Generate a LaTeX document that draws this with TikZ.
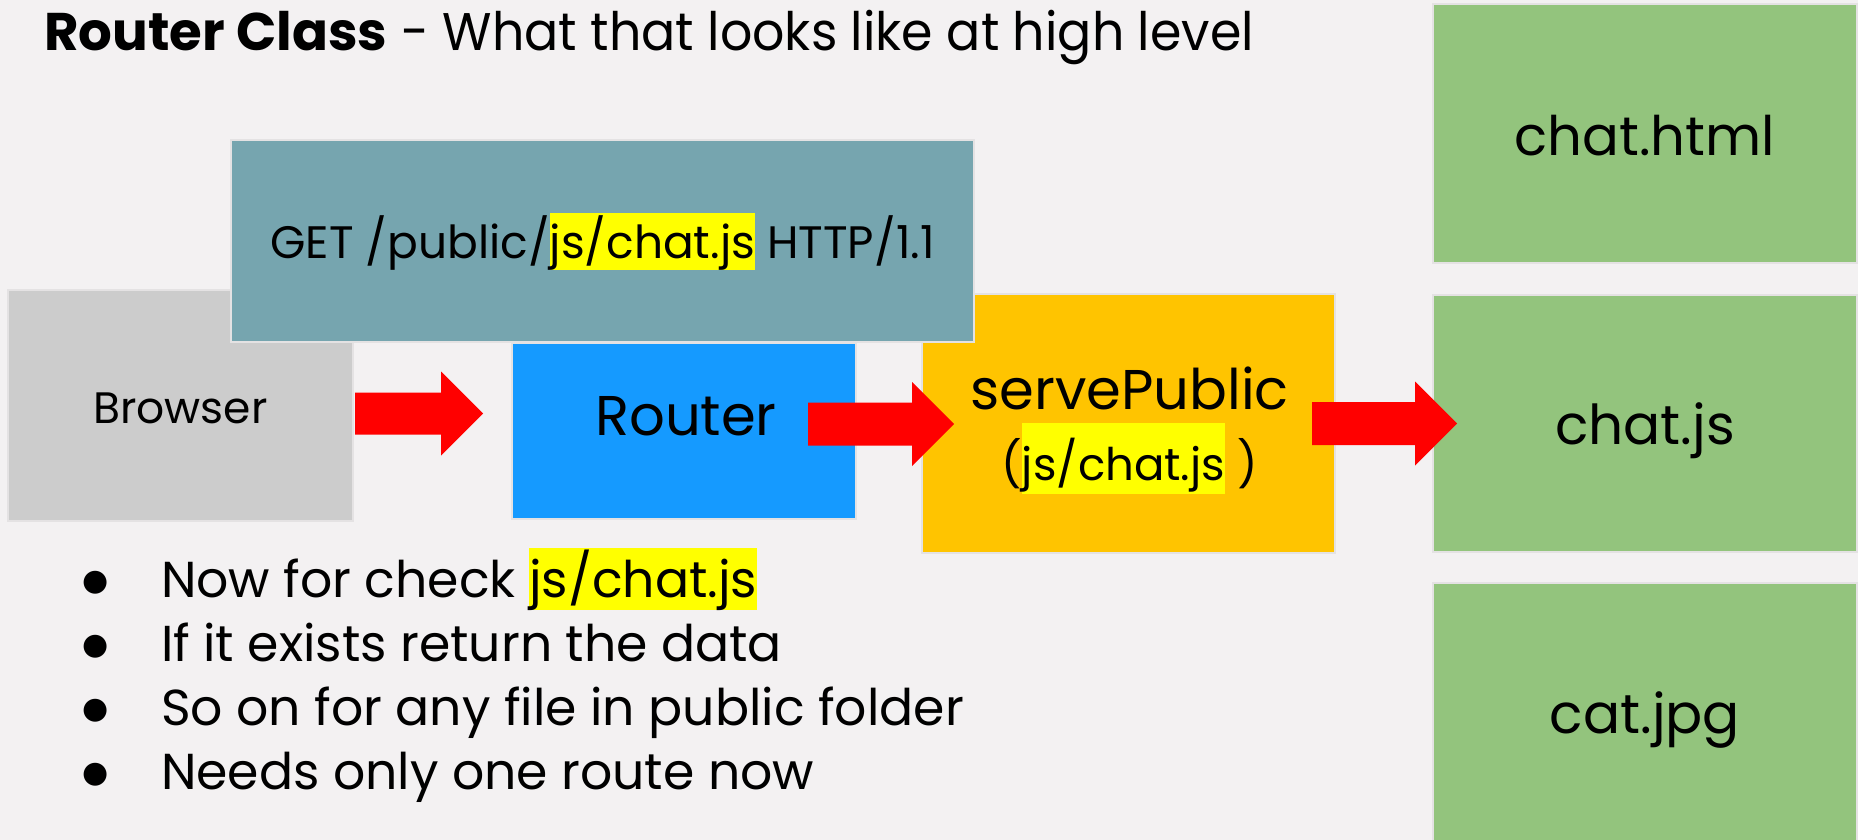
\documentclass[tikz,border=0pt]{standalone}
\usepackage{fontspec}
\setmainfont{Poppins}
\newfontfamily\symfont{DejaVu Sans}
\usetikzlibrary{calc}

\definecolor{bg}{HTML}{F3F1F2}
\definecolor{boxline}{HTML}{E4E2E3}
\definecolor{browsergray}{HTML}{CCCCCC}
\definecolor{reqteal}{HTML}{76A5AF}
\definecolor{routerblue}{HTML}{159AFF}
\definecolor{serveorange}{HTML}{FFC400}
\definecolor{filegreen}{HTML}{93C47D}
\definecolor{arrowred}{HTML}{FF0000}
\definecolor{hlyellow}{HTML}{FFFF00}

% highlighted run of text
\newcommand\hl[1]{{\setlength{\fboxsep}{0pt}\colorbox{hlyellow}{\rule[-0.24em]{0pt}{1.22em}#1}}}
% the same, with the taller band of a looser line
\newcommand\hltall[1]{{\setlength{\fboxsep}{0pt}\colorbox{hlyellow}{\rule[-0.31em]{0pt}{1.58em}#1}}}
\newcommand\fs[1]{\fontsize{#1}{#1}\selectfont}

% thick block arrow from #1 to the x of #2, shaft half-height #3
\newcommand\blockarrow[3]{%
  \fill[arrowred] let \p1=(#1), \p2=(#2) in
    (\x1,\y1+#3) -- (\x2-42pt,\y1+#3) -- (\x2-42pt,\y1+42pt) -- (\x2,\y1)
    -- (\x2-42pt,\y1-42pt) -- (\x2-42pt,\y1-#3) -- (\x1,\y1-#3) -- cycle;}

\begin{document}
\begin{tikzpicture}[x=1pt,y=-1pt,
  box/.style={draw=boxline, line width=1.2pt, inner sep=0pt, outer sep=0pt},
  lbl/.style={anchor=base, inner sep=0pt, outer sep=0pt, text=black},
  bullet/.style={anchor=center, inner sep=0pt, text=black}]

\fill[bg] (0,0) rectangle (1858,840);
\useasboundingbox (0,0) rectangle (1858,840);
\clip (0,0) rectangle (1858,840);

% boxes
\node[box, fill=browsergray, minimum width=345pt, minimum height=231pt] (browser) at (180.5,405.5) {};
\node[box, fill=serveorange, minimum width=413pt, minimum height=259pt] (serve) at (1128.5,423.5) {};
\node[box, fill=filegreen, minimum width=424pt, minimum height=259pt] (html) at (1645,133.5) {};
\node[box, fill=filegreen, minimum width=424pt, minimum height=257pt] (js) at (1645,423.5) {};
\node[box, fill=filegreen, minimum width=424pt, minimum height=259pt] (jpg) at (1645,712.5) {};
\node[box, fill=routerblue, minimum width=344pt, minimum height=176pt] (router) at (684,431) {};
\node[box, fill=reqteal, minimum width=743pt, minimum height=202pt] (get) at (602.5,241) {};

% arrows
\coordinate (a1s) at ($(browser.east)+(2,8)$);
\coordinate (a1e) at ($(router.west)+(-29,-18)$);
\coordinate (a2s) at ($(router.east)+(-48,-7)$);
\coordinate (a2e) at ($(serve.west)+(32,0)$);
\coordinate (a3s) at ($(serve.east)+(-23,0)$);
\coordinate (a3e) at ($(js.west)+(24,0)$);
\blockarrow{a1s}{a1e}{21pt}
\blockarrow{a2s}{a2e}{21.5pt}
\blockarrow{a3s}{a3e}{21.5pt}

% title
\node[lbl, anchor=base west] (title) at (44,51) {\fs{53}\textbf{Router Class} {\addfontfeatures{FakeStretch=0.955}- What that looks like at high level}};

% box labels
\node[lbl] (getlbl) at ($(get.center)+(0,17)$) {\fs{45.5}GET /public/\hl{js/chat.js} HTTP/1.1};
\node[lbl] (browserlbl) at ($(browser.center)+(0,17.5)$) {\fs{44}Browser};
\node[lbl] (routerlbl) at ($(router.center)+(2,4)$) {\fs{56}Router};
\node[lbl] (servelbl) at ($(serve.center)+(1,-14.5)$) {\fs{56}servePublic};
\node[lbl] (servearg) at ($(serve.center)+(1,56.5)$) {\fs{45}(\hltall{js/chat.js} )};
\node[lbl] (htmllbl) at ($(html.center)+(0,22)$) {\fs{54.5}chat.html};
\node[lbl] (jslbl) at ($(js.center)+(0,21)$) {\fs{55}chat.js};
\node[lbl] (jpglbl) at ($(jpg.center)+(0,21)$) {\fs{55}cat.jpg};

% bullet list
\node[bullet] (b1) at (96,583) {\symfont\fs{30}●};
\node[bullet] (b2) at (96,647) {\symfont\fs{30}●};
\node[bullet] (b3) at (96,711) {\symfont\fs{30}●};
\node[bullet] (b4) at (96,775) {\symfont\fs{30}●};
\node[lbl, anchor=base west] (t1) at (161,597) {\fs{50.5}Now for check \hl{js/chat.js}};
\node[lbl, anchor=base west] (t2) at (161,661) {\fs{50.5}If it exists return the data};
\node[lbl, anchor=base west] (t3) at (161,725) {\fs{50.5}So on for any file in public folder};
\node[lbl, anchor=base west] (t4) at (161,789) {\fs{50.5}Needs only one route now};
\end{tikzpicture}
\end{document}
